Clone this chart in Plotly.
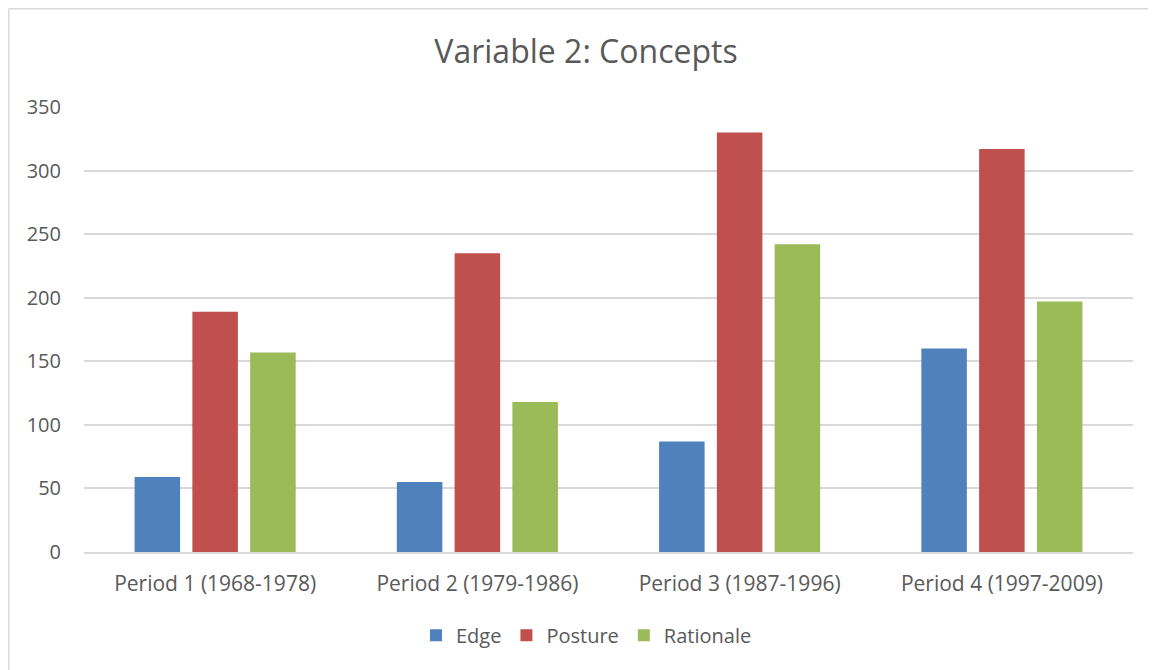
import plotly.graph_objects as go

categories = ["Period 1 (1968-1978)", "Period 2 (1979-1986)", "Period 3 (1987-1996)", "Period 4 (1997-2009)"]
edge = [59, 55, 87, 160]
posture = [189, 235, 330, 317]
rationale = [157, 118, 242, 197]
y_ticks = [0, 50, 100, 150, 200, 250, 300, 350]

series = [("Edge", edge, "#4F81BD"), ("Posture", posture, "#C0504D"), ("Rationale", rationale, "#9BBB59")]

fig = go.Figure()
for name, vals, col in series:
    fig.add_trace(go.Bar(name=name, x=categories, y=vals, marker=dict(color=col, line=dict(width=0))))

font_family = "Open Sans, Noto Sans, sans-serif"
fig.update_layout(
    width=1156, height=670,
    margin=dict(l=76, r=31, t=99, b=126),
    paper_bgcolor="white", plot_bgcolor="white",
    barmode="group", bargap=0.339, bargroupgap=0.212,
    title=dict(text="Variable 2: Concepts", x=0.5, xanchor="center", y=0.934, yanchor="middle",
               font=dict(family=font_family, size=32, color="#595959")),
    font=dict(family=font_family, color="#595959"),
    xaxis=dict(showgrid=False, showline=True, linecolor="#D9D9D9", linewidth=1.5,
               tickfont=dict(size=21, color="#595959"), ticks="", ticklabelstandoff=12),
    yaxis=dict(range=[0, 350], tickvals=y_ticks, showgrid=True, gridcolor="#D9D9D9", gridwidth=1.5,
               zeroline=False, showline=False, ticks="", tickfont=dict(size=20, color="#595959"),
               ticklabelstandoff=22),
    legend=dict(orientation="h", x=0.479, xanchor="center", y=-0.187, yanchor="middle",
                font=dict(size=20, color="#595959"), itemwidth=30, traceorder="normal"),
    shapes=[
        dict(type="line", xref="paper", yref="paper", x0=-0.0717, x1=1.1, y0=1.2208, y1=1.2208,
             line=dict(color="#D9D9D9", width=1.5)),
        dict(type="line", xref="paper", yref="paper", x0=-0.0717, x1=-0.0717, y0=-0.4, y1=1.2208,
             line=dict(color="#D9D9D9", width=1.5)),
    ],
)

fig.write_html("out.html")
